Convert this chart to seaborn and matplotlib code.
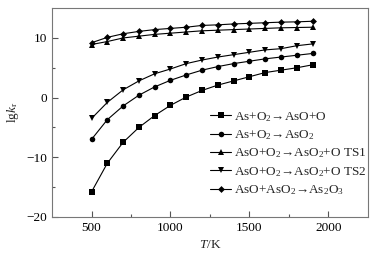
import numpy as np
import pandas as pd
import matplotlib
matplotlib.use('Agg')
import matplotlib.pyplot as plt
import seaborn as sns

T = [500, 600, 700, 800, 900, 1000, 1100, 1200, 1300, 1400, 1500, 1600, 1700, 1800, 1900]
r1 = [-15.8, -11.0, -7.5, -5.0, -3.0, -1.3, 0.1, 1.2, 2.1, 2.8, 3.5, 4.2, 4.6, 5.0, 5.5]
r2 = [-7.0, -3.7, -1.4, 0.4, 1.8, 2.9, 3.8, 4.6, 5.2, 5.7, 6.1, 6.5, 6.8, 7.1, 7.4]
r3 = [8.9, 9.4, 10.0, 10.3, 10.6, 10.8, 11.0, 11.2, 11.3, 11.4, 11.5, 11.6, 11.7, 11.75, 11.8]
r4 = [-3.5, -0.8, 1.3, 2.8, 4.0, 4.8, 5.7, 6.3, 6.8, 7.2, 7.6, 8.0, 8.2, 8.7, 9.0]
r5 = [9.2, 10.1, 10.7, 11.1, 11.4, 11.6, 11.8, 12.1, 12.2, 12.35, 12.45, 12.55, 12.65, 12.7, 12.8]

labels = [r'As+O$_2$→AsO+O', r'As+O$_2$→AsO$_2$', r'AsO+O$_2$→AsO$_2$+O TS1',
          r'AsO+O$_2$→AsO$_2$+O TS2', r'AsO+AsO$_2$→As$_2$O$_3$']
markers = ['s', 'o', '^', 'v', 'D']

sns.set_theme(style='ticks')
plt.rcParams['font.family'] = ['Liberation Serif', 'DejaVu Serif']
plt.rcParams['mathtext.fontset'] = 'custom'
plt.rcParams['mathtext.rm'] = 'Liberation Serif'
plt.rcParams['mathtext.it'] = 'Liberation Serif:italic'

fig, ax = plt.subplots(figsize=(3.8, 2.54), dpi=100)
fig.subplots_adjust(left=0.137, right=0.968, top=0.968, bottom=0.146)

for lab, mk, ys in zip(labels, markers, [r1, r2, r3, r4, r5]):
    df = pd.DataFrame({'T': T, 'lgk': ys})
    sns.lineplot(data=df, x='T', y='lgk', ax=ax, color='black', lw=0.8,
                 marker=mk, markersize=4 if mk != 'D' else 3.5, markeredgewidth=0,
                 label=lab)

ax.set_xlim(250, 2250)
ax.set_ylim(-20, 15)
ax.set_xticks([500, 1000, 1500, 2000])
ax.set_xticks([750, 1250, 1750], minor=True)
ax.set_yticks([-20, -10, 0, 10])
ax.set_yticks([-15, -5, 5], minor=True)
ax.tick_params(which='both', direction='in', colors='#555555', labelcolor='black',
               labelsize=9.5, width=0.8)
ax.tick_params(which='major', length=4)
ax.tick_params(which='minor', length=2.5)
for s in ax.spines.values():
    s.set_color('#777777')
    s.set_linewidth(0.8)
ax.set_xlabel(r'$T$/K', fontsize=9.5, labelpad=4)
ax.set_ylabel(r'lg$k_{\rm r}$', fontsize=9.5, labelpad=4)

ax.legend(loc='lower right', frameon=False, fontsize=9.5, handlelength=1.6,
          handletextpad=0.2, labelspacing=0.35, borderaxespad=0.3,
          bbox_to_anchor=(1.025, 0.05))

fig.savefig('out.png', dpi=100)
